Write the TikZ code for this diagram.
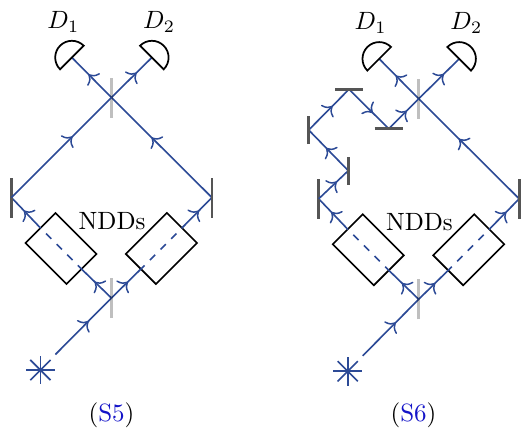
\documentclass[tikz,border=0pt]{standalone}
\usetikzlibrary{arrows.meta,decorations.markings}
\definecolor{beamc}{HTML}{2C4A96}
\definecolor{mirrorc}{HTML}{555555}
\definecolor{capblue}{HTML}{1414C8}
\tikzset{
  beam/.style={draw=beamc,line width=0.65pt},
  arrowat/.style={postaction={decorate},decoration={markings,
    mark=at position #1 with {\arrow[beamc,line width=0.6pt]{Computer Modern Rightarrow[length=3.2pt,width=7pt]}}}},
  dashbeam/.style={beam,dash pattern=on 3pt off 3pt,dash phase=0.6pt},
  mirrorv/.style={draw=mirrorc,line width=1.1pt},
  splitter/.style={draw=black,opacity=0.25,line width=1.2pt},
  ndd/.style={draw=black,line width=0.65pt,minimum width=23.2pt,minimum height=17pt,inner sep=0pt},
  detector/.style={draw=black,line width=0.7pt},
  labeltext/.style={inner sep=0pt}
}
\newcommand{\lowerpart}{%
  \coordinate (bsT) at (111,330.5);
  \coordinate (bsB) at (111,130);
  \coordinate (mL) at (11,230.5);
  \coordinate (mR) at (211.5,230.5);
  \coordinate (star) at (40,58);
  \coordinate (start) at (55,73.5);
  \coordinate (d1) at (71.5,370.5);
  \coordinate (d2) at (151.5,370.5);
  \node[ndd,rotate=-45] (nl) at (60.6,179.5) {};
  \node[ndd,rotate=45] (nr) at (161,179.5) {};
  \node[labeltext] (ndds) at (111.7,207) {NDDs};
  \node[labeltext] (l1) at (63,406) {$D_1$};
  \node[labeltext] (l2) at (158.7,406) {$D_2$};
  \foreach \a in {-135,-90,-45,0,45,90,135,180}
    \draw[beam] (star) -- ++(\a:14.3);
  \path[beam,arrowat=0.59] (start) -- (bsB);
  \path[beam,arrowat=0.57] (bsB) -- (nl.east);
  \path[beam,arrowat=0.57] (bsB) -- (nr.west);
  \draw[dashbeam] (nl.east) -- (nl.west);
  \draw[dashbeam] (nr.west) -- (nr.east);
  \path[beam,arrowat=0.56] (nl.west) -- (mL);
  \path[beam,arrowat=0.56] (nr.east) -- (mR);
  \path[beam,arrowat=0.60] (mR) -- (bsT);
  \path[beam,arrowat=0.58] (bsT) -- (d1);
  \path[beam,arrowat=0.62] (bsT) -- (d2);
  \draw[detector] (d1) ++(45:16.7) arc[start angle=45,end angle=225,radius=16.7] -- cycle;
  \draw[detector] (d2) ++(135:16.7) arc[start angle=135,end angle=-45,radius=16.7] -- cycle;
  \draw[mirrorv] (mL) ++(0,-20) -- ++(0,40);
  \draw[mirrorv] (mR) ++(0,-20) -- ++(0,40);
  \draw[splitter] (bsT) ++(0,-20) -- ++(0,40);
  \draw[splitter] (bsB) ++(0,-20) -- ++(0,40);
}
\begin{document}
\begin{tikzpicture}[x=0.4pt,y=0.4pt]
\useasboundingbox (0,0) rectangle (521,428);
\begin{scope}[shift={(0.4,0)},name prefix=a-]
  \lowerpart
  \path[beam,arrowat=0.61] (mL) -- (bsT);
\end{scope}
\begin{scope}[shift={(307.7,-1.3)},name prefix=b-]
  \lowerpart
  \coordinate (m2) at (40.6,258.6);
  \coordinate (m3) at (1,299.3);
  \coordinate (m4) at (41.3,340);
  \coordinate (m5) at (81,300.6);
  \path[beam,arrowat=0.61] (mL) -- (m2);
  \path[beam,arrowat=0.56] (m2) -- (m3);
  \path[beam,arrowat=0.59] (m3) -- (m4);
  \path[beam,arrowat=0.60] (m4) -- (m5);
  \path[beam,arrowat=0.60] (m5) -- (bsT);
  \draw[mirrorv] (m2) ++(0,-14) -- ++(0,28);
  \draw[mirrorv] (m3) ++(0,-14) -- ++(0,28);
  \draw[mirrorv] (m4) ++(-14,0) -- ++(28,0);
  \draw[mirrorv] (m5) ++(-14,0) -- ++(28,0);
\end{scope}
\node[labeltext] (capa) at (111.5,13) {(\textcolor{capblue}{S5})};
\node[labeltext] (capb) at (413.5,13) {(\textcolor{capblue}{S6})};
\end{tikzpicture}
\end{document}
